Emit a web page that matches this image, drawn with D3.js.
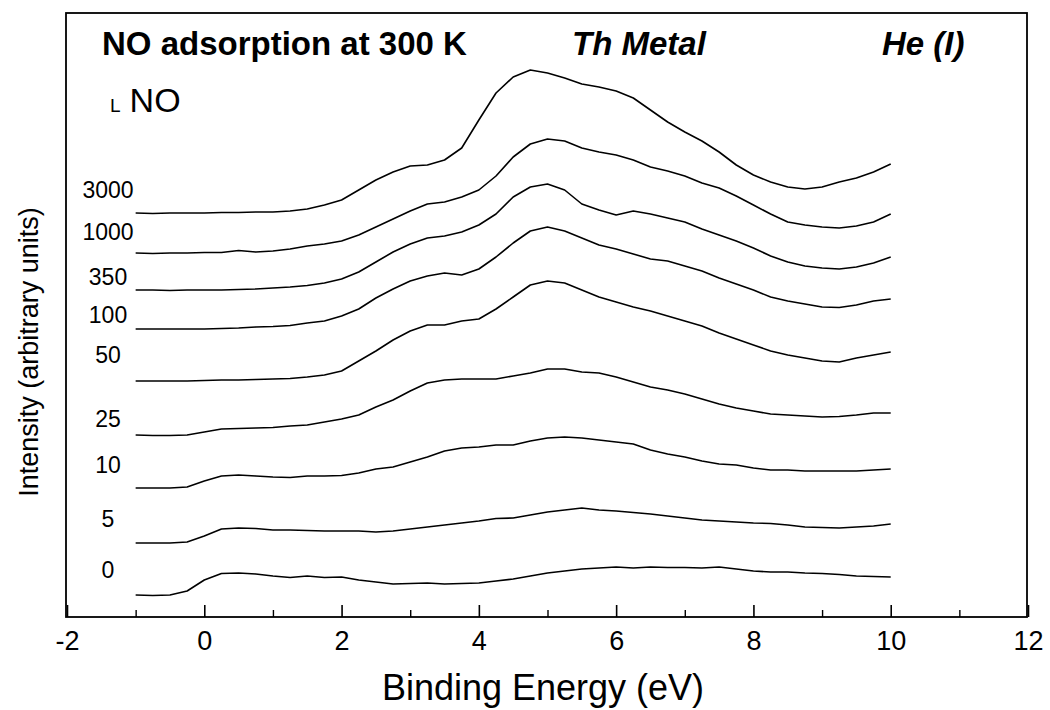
<!DOCTYPE html>
<html>
<head>
<meta charset="utf-8">
<script src="https://cdn.jsdelivr.net/npm/d3@7/dist/d3.min.js"></script>
<style>
  html, body { margin: 0; padding: 0; background: #fff; }
  svg text { font-family: "Liberation Sans", Arial, Helvetica, sans-serif; fill: #000; }
</style>
</head>
<body>
<svg id="chart" width="1050" height="710"></svg>
<script>
// Binding energy grid (eV)
const energy = [-1, -0.75, -0.5, -0.25, 0, 0.25, 0.5, 0.75, 1, 1.25, 1.5, 1.75, 2, 2.25, 2.5, 2.75,
  3, 3.25, 3.5, 3.75, 4, 4.25, 4.5, 4.75, 5, 5.25, 5.5, 5.75, 6, 6.25, 6.5, 6.75, 7, 7.25, 7.5, 7.75,
  8, 8.25, 8.5, 8.75, 9, 9.25, 9.5, 9.75, 10];

// NO exposures (L) labelling each spectrum
const exposures = ["3000", "1000", "350", "100", "50", "25", "10", "5", "0"];

// Offset spectra (arbitrary intensity units, as stacked in the figure)
const s3000 = [404, 403.5, 404, 404, 404, 404.5, 404.5, 405, 405, 406, 408, 412, 417, 427, 437, 445,
  451, 452, 457, 469, 497, 524, 540, 547, 544, 539, 533, 530, 526, 519, 507, 495, 485, 476, 465, 452,
  442, 435, 430, 428, 430, 435, 439, 445, 453];
const s1000 = [364, 363.5, 364, 364, 364.5, 364.5, 366.5, 365, 366, 368, 371, 373, 376, 382, 390, 398,
  406, 413, 415, 420, 427, 441, 460, 473, 478, 476, 469, 465, 462, 457, 450, 446, 441, 434, 429, 421,
  412, 403, 395, 392, 390, 389, 391, 395, 403];
const s350 = [327, 327, 326.5, 327, 327, 327, 327.5, 328, 329, 330, 331.5, 334, 338, 345, 355, 365,
  373, 379, 381, 385, 392, 403, 420, 430, 433, 427, 413, 407, 402, 406, 403, 399, 395, 388, 382, 376,
  369, 361, 355, 351, 349, 348, 350, 354, 360];
const s100 = [288, 288, 288, 288, 288, 288.5, 289, 290, 290.5, 291.5, 294, 296, 301, 308, 319, 328,
  336, 341, 344, 342, 348, 360, 374, 386, 390, 386, 379, 372, 368, 363, 358, 356, 351, 346, 339, 333,
  327, 320, 316, 313, 310, 309.5, 312, 316, 318];
const s50 = [236, 236, 236, 236, 236.5, 237, 237, 237.5, 238, 238.5, 240, 242, 246, 256, 266, 277,
  286, 292, 292, 296, 298, 308, 320, 332, 336, 334, 327, 320, 315, 310, 306, 301, 296, 291, 284, 278,
  272, 266, 262, 259, 256, 255, 259, 262, 265];
const s25 = [182, 181.5, 181.5, 182, 185, 188, 188.5, 189, 189.5, 191, 192, 195, 198, 202, 210, 217,
  226, 234, 237, 238, 238, 238, 241, 244, 248, 248, 245, 244, 240, 235, 230, 227, 223, 218, 213, 209,
  206, 203, 202, 201, 200, 200.5, 202, 204, 204];
const s10 = [129, 129, 129, 130, 136, 141, 142, 141, 140, 139.5, 141, 141, 141.5, 144, 148, 150,
  155, 160, 166, 169, 170, 172, 172, 176, 179, 180, 179, 177, 175, 173, 167, 163, 160, 156, 153, 152,
  149, 147, 147, 146, 146, 146, 146, 147, 148];
const s5 = [74, 74, 74, 75, 81, 88, 89, 88.5, 87, 87, 86.5, 86, 86, 86, 85, 86,
  88, 90, 92, 94, 96, 98.5, 99, 102, 105, 107, 109, 107, 106, 104.5, 103, 101, 99, 97, 96, 95,
  94, 93.5, 92, 90, 89.5, 89, 90, 91, 93];
const s0 = [22, 21.5, 22, 26, 37, 43.5, 44, 43, 41, 39.5, 41, 39.5, 40, 37, 35, 33,
  33.5, 34, 33, 33.5, 34, 36, 38, 41, 44, 46, 48, 49, 50, 49, 50, 49.5, 49.5, 49, 50, 48,
  46, 45, 45, 44, 43.5, 42.5, 41, 40.5, 40];

// Intensity level of each exposure label's baseline
const labelLevels = [419, 377, 332, 294, 254, 190, 144, 90, 39];

const xTicks = [-2, 0, 2, 4, 6, 8, 10, 12];
const xMinorTicks = [-1, 1, 3, 5, 7, 9, 11];

const spectra = [s3000, s1000, s350, s100, s50, s25, s10, s5, s0];

// ---- layout ----
const svg = d3.select("#chart");
const plotL = 66, plotR = 1027, plotT = 13, plotB = 617;

const x = d3.scaleLinear().domain([-2, 12]).range([67, 1028]);
const y = d3.scaleLinear().domain([0, 604]).range([plotB, plotT]);

// frame
svg.append("rect")
  .attr("x", plotL).attr("y", plotT)
  .attr("width", plotR - plotL).attr("height", plotB - plotT)
  .attr("fill", "none").attr("stroke", "#000").attr("stroke-width", 1.8);

// x axis (inward ticks)
const ax = svg.append("g").attr("transform", `translate(0,${plotB})`)
  .call(d3.axisBottom(x).tickValues(xTicks).tickSize(-12).tickPadding(14).tickFormat(d => String(d)));
ax.select(".domain").remove();
ax.selectAll(".tick line").attr("stroke", "#000").attr("stroke-width", 1.6);
ax.selectAll(".tick text").style("font-size", "27px").style("font-family", "Liberation Sans, Arial, sans-serif");

const axm = svg.append("g").attr("transform", `translate(0,${plotB})`)
  .call(d3.axisBottom(x).tickValues(xMinorTicks).tickSize(-7).tickFormat(""));
axm.select(".domain").remove();
axm.selectAll(".tick line").attr("stroke", "#000").attr("stroke-width", 1.4);

// spectra
const line = d3.line()
  .x((d, i) => x(energy[i]))
  .y(d => y(d))
  .curve(d3.curveLinear);

svg.append("g").selectAll("path")
  .data(spectra)
  .join("path")
  .attr("d", d => line(d))
  .attr("fill", "none")
  .attr("stroke", "#000")
  .attr("stroke-width", 1.6)
  .attr("stroke-linejoin", "round");

// exposure labels
svg.append("g").selectAll("text")
  .data(exposures)
  .join("text")
  .attr("x", 108)
  .attr("y", (d, i) => y(labelLevels[i]))
  .attr("text-anchor", "middle")
  .style("font-size", "23px")
  .text(d => d);

// header annotations
svg.append("text").attr("x", 102).attr("y", 55)
  .style("font-size", "33px").style("font-weight", "bold")
  .text("NO adsorption at 300 K");
svg.append("text").attr("x", 572).attr("y", 55)
  .style("font-size", "33px").style("font-weight", "bold").style("font-style", "italic")
  .text("Th Metal");
svg.append("text").attr("x", 882).attr("y", 55)
  .style("font-size", "33px").style("font-weight", "bold").style("font-style", "italic")
  .text("He (I)");

const lno = svg.append("text").attr("x", 110).attr("y", 112);
lno.append("tspan").style("font-size", "19px").text("L");
lno.append("tspan").attr("dx", 9).style("font-size", "34px").text("NO");

// axis titles
svg.append("text")
  .attr("x", 543).attr("y", 700)
  .attr("text-anchor", "middle")
  .style("font-size", "36px")
  .text("Binding Energy (eV)");

svg.append("text")
  .attr("transform", "translate(38,352) rotate(-90)")
  .attr("text-anchor", "middle")
  .style("font-size", "27px")
  .text("Intensity (arbitrary units)");
</script>
</body>
</html>
